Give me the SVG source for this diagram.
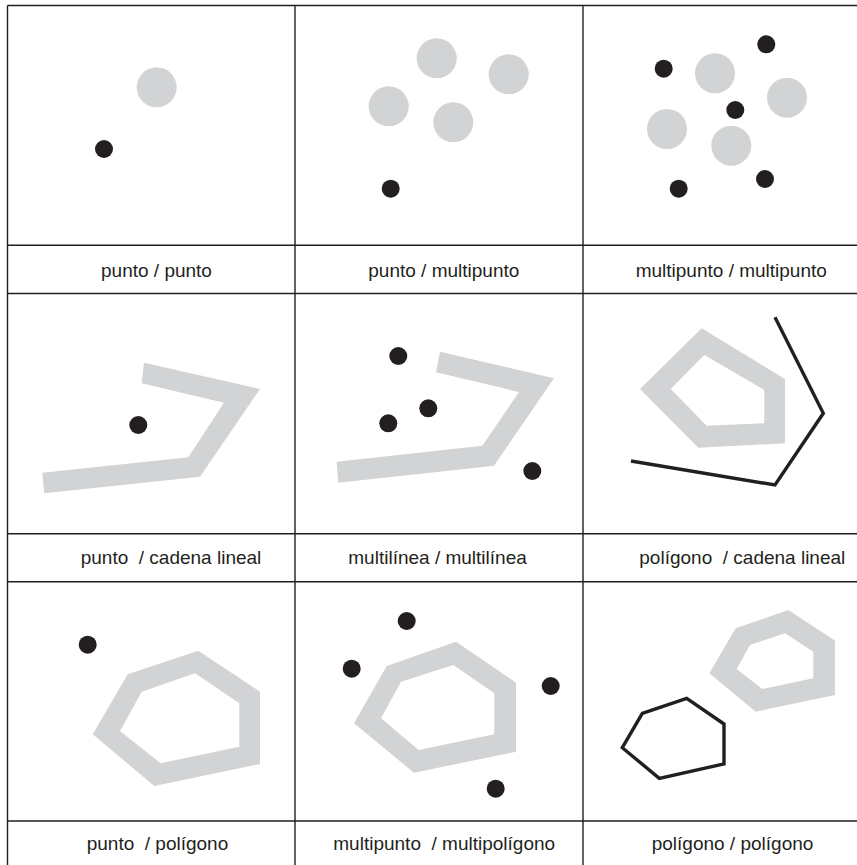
<svg xmlns="http://www.w3.org/2000/svg" width="857" height="865" viewBox="0 0 857 865">
<style>
.grid{stroke:#231f20;stroke-width:1.4;fill:none}
.g{fill:#d1d3d4}
.k{fill:#231f20}
.kl{fill:none;stroke:#231f20;stroke-width:3.4;stroke-linejoin:miter}
.t{font-family:"Liberation Sans",Arial,sans-serif;font-size:19px;fill:#231f20;white-space:pre}
</style>
<rect width="857" height="865" fill="#ffffff"/>
<g id="grid" class="grid">
<line x1="7.5" y1="5.5" x2="857" y2="5.5"/>
<line x1="7.5" y1="245.3" x2="857" y2="245.3"/>
<line x1="7.5" y1="293.5" x2="857" y2="293.5"/>
<line x1="7.5" y1="533.7" x2="857" y2="533.7"/>
<line x1="7.5" y1="581.7" x2="857" y2="581.7"/>
<line x1="7.5" y1="821" x2="857" y2="821"/>
<line x1="7.5" y1="5.5" x2="7.5" y2="865"/>
<line x1="295" y1="5.5" x2="295" y2="865"/>
<line x1="583" y1="5.5" x2="583" y2="865"/>
</g>
<g id="cell1">
<circle class="g" cx="156.7" cy="87.3" r="20"/>
<circle class="k" cx="104" cy="149" r="9"/>
<text class="t" x="101" y="277">punto / punto</text>
</g>
<g id="cell2">
<circle class="g" cx="436.7" cy="58.3" r="20"/>
<circle class="g" cx="508.7" cy="74.3" r="20"/>
<circle class="g" cx="388.7" cy="106.3" r="20"/>
<circle class="g" cx="453.3" cy="122.3" r="20"/>
<circle class="k" cx="390.7" cy="188.7" r="9"/>
<text class="t" x="368.3" y="277">punto / multipunto</text>
</g>
<g id="cell3">
<circle class="g" cx="715" cy="73.3" r="20"/>
<circle class="g" cx="787" cy="97.7" r="20"/>
<circle class="g" cx="667" cy="129" r="20"/>
<circle class="g" cx="731.3" cy="145.7" r="20"/>
<circle class="k" cx="766.3" cy="44.3" r="9"/>
<circle class="k" cx="663.7" cy="68.7" r="9"/>
<circle class="k" cx="735.3" cy="110" r="9"/>
<circle class="k" cx="765" cy="179" r="9"/>
<circle class="k" cx="678.7" cy="188.7" r="9"/>
<text class="t" x="635.7" y="277">multipunto / multipunto</text>
</g>
<g id="cell4">
<polygon class="g" points="144,362.7 260,389 200,476.7 44.3,493.3 42.3,472.7 188.3,457.3 224,402.7 141.7,383.3"/>
<circle class="k" cx="138.3" cy="425" r="9"/>
<text class="t" x="80.7" y="564">punto  / cadena lineal</text>
</g>
<g id="cell5">
<polygon class="g" points="440,351.7 554,378.3 494,465.7 338.3,482.7 336.7,461.7 482.3,445.7 519,392 436,372.3"/>
<circle class="k" cx="398.3" cy="356" r="9"/>
<circle class="k" cx="428.3" cy="408.3" r="9"/>
<circle class="k" cx="388.3" cy="423.3" r="9"/>
<circle class="k" cx="532.3" cy="471" r="9"/>
<text class="t" x="348.3" y="564">multilínea / multilínea</text>
</g>
<g id="cell6">
<path class="g" fill-rule="evenodd" d="M701.7,328.3 L785,379 L785,443.3 L698.3,447.7 L640,389 Z M704.3,355 L670.7,389 L706.7,425.7 L764.3,423.3 L764.3,390 Z"/>
<polyline class="kl" points="775,317.3 823.3,413.3 775,485 631,461"/>
<text class="t" x="639.3" y="564">polígono  / cadena lineal</text>
</g>
<g id="cell7">
<circle class="k" cx="87.7" cy="644.7" r="9"/>
<path class="g" fill-rule="evenodd" d="M127.7,674.3 L198.3,650.7 L260,691.7 L260,764 L154.3,786 L92.7,734.3 Z M141.7,691.7 L120,731 L160.7,763.3 L239.3,746.7 L239.3,703.3 L195,673.3 Z"/>
<text class="t" x="86.7" y="850">punto  / polígono</text>
</g>
<g id="cell8">
<path class="g" fill-rule="evenodd" d="M386.7,666 L456,641.7 L516,682.7 L516,751.7 L414,772.7 L354,723.3 Z M401,681.7 L381,718.3 L418.7,750 L494.3,734.3 L494.3,693.3 L453.3,665 Z"/>
<circle class="k" cx="406.7" cy="621" r="9"/>
<circle class="k" cx="351.7" cy="668.7" r="9"/>
<circle class="k" cx="550.7" cy="686" r="9"/>
<circle class="k" cx="495.7" cy="788.7" r="9"/>
<text class="t" x="333.3" y="850">multipunto  / multipolígono</text>
</g>
<g id="cell9">
<path class="g" fill-rule="evenodd" d="M735.7,628.3 L788.3,610 L835,640.7 L835,695 L755.7,711.7 L709.3,673.3 Z M750,645 L736.7,669 L762.3,689 L813.3,678.3 L813.3,651.7 L785,633.3 Z"/>
<polygon class="kl" points="642.3,713.3 686.7,698.3 724,724 724,764 659.3,778.3 622.3,747.7"/>
<text class="t" x="651.7" y="850">polígono / polígono</text>
</g>
</svg>
